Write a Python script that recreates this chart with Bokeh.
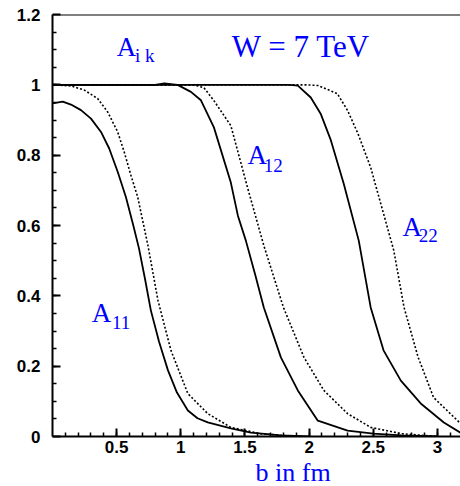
import numpy as np
from bokeh.plotting import figure
from bokeh.models import Range1d, FixedTicker, Label, Span, Title
from bokeh.embed import file_html
from bokeh.resources import INLINE

# ---- data ----
b_11_solid = [0.0, 0.08, 0.144, 0.222, 0.30, 0.378, 0.442, 0.508, 0.572, 0.63, 0.674, 0.72, 0.767, 0.83, 0.90, 0.97, 1.055, 1.13, 1.21, 1.39, 1.546, 1.78, 2.0]
a_11_solid = [0.947, 0.952, 0.944, 0.928, 0.904, 0.866, 0.819, 0.753, 0.681, 0.60, 0.535, 0.45, 0.358, 0.27, 0.188, 0.125, 0.074, 0.052, 0.04, 0.023, 0.011, 0.003, 0.0]

b_11_dot = [0.0, 0.144, 0.248, 0.352, 0.43, 0.508, 0.559, 0.611, 0.664, 0.744, 0.822, 0.923, 1.055, 1.21, 1.39, 1.62, 1.9]
a_11_dot = [1.0, 0.997, 0.985, 0.961, 0.923, 0.866, 0.809, 0.743, 0.681, 0.543, 0.387, 0.245, 0.122, 0.065, 0.026, 0.008, 0.0]

b_12_solid = [0.0, 0.80, 0.871, 0.975, 1.079, 1.157, 1.258, 1.39, 1.445, 1.507, 1.58, 1.647, 1.78, 1.912, 2.068, 2.30, 2.50, 2.72, 3.0]
a_12_solid = [1.0, 1.0, 1.004, 1.0, 0.98, 0.956, 0.879, 0.722, 0.628, 0.557, 0.46, 0.367, 0.225, 0.131, 0.045, 0.017, 0.008, 0.003, 0.0]

b_12_dot = [0.0, 1.10, 1.18, 1.258, 1.39, 1.52, 1.647, 1.80, 1.96, 2.115, 2.30, 2.48, 2.72, 3.0]
a_12_dot = [1.0, 1.0, 0.992, 0.955, 0.884, 0.708, 0.543, 0.367, 0.225, 0.131, 0.065, 0.026, 0.008, 0.0]

b_22_solid = [0.0, 1.85, 1.912, 2.013, 2.09, 2.17, 2.27, 2.387, 2.48, 2.58, 2.715, 2.87, 3.05, 3.18]
a_22_solid = [1.0, 1.0, 0.998, 0.964, 0.918, 0.842, 0.719, 0.557, 0.367, 0.245, 0.159, 0.094, 0.040, 0.011]

b_22_dot = [0.0, 1.98, 2.07, 2.22, 2.30, 2.38, 2.48, 2.66, 2.74, 2.85, 2.97, 3.18]
a_22_dot = [1.0, 1.0, 0.998, 0.975, 0.927, 0.862, 0.765, 0.529, 0.367, 0.225, 0.111, 0.037]

x_ticks = [0.5, 1.0, 1.5, 2.0, 2.5, 3.0]
x_tick_labels = ["0.5", "1", "1.5", "2", "2.5", "3"]
y_ticks = [0.0, 0.2, 0.4, 0.6, 0.8, 1.0, 1.2]
y_tick_labels = ["0", "0.2", "0.4", "0.6", "0.8", "1", "1.2"]
x_title = "b in  fm"

p = figure(width=460, height=486, output_backend="svg", toolbar_location=None,
           x_range=Range1d(0, 3.18), y_range=Range1d(0, 1.2),
           min_border_left=52, min_border_right=0, min_border_top=14, min_border_bottom=50)
p.outline_line_color = None
p.grid.visible = False
p.background_fill_color = "white"

# curves
p.line(b_11_solid, a_11_solid, line_color="black", line_width=1.8)
p.line(b_11_dot, a_11_dot, line_color="black", line_width=1.6, line_dash="2 2")
p.line(b_12_solid, a_12_solid, line_color="black", line_width=1.8)
p.line(b_12_dot, a_12_dot, line_color="black", line_width=1.6, line_dash="2 2")
p.line(b_22_solid, a_22_solid, line_color="black", line_width=1.8)
p.line(b_22_dot, a_22_dot, line_color="black", line_width=1.6, line_dash="2 2")

# axes
minor_x = [round(v, 2) for v in np.arange(0.1, 3.2, 0.1)]
minor_y = [round(v, 2) for v in np.arange(0.05, 1.2, 0.05)]
p.xaxis.ticker = FixedTicker(ticks=x_ticks, minor_ticks=minor_x)
p.yaxis.ticker = FixedTicker(ticks=y_ticks, minor_ticks=minor_y)
p.xaxis.major_label_overrides = {t: l for t, l in zip(x_ticks, x_tick_labels)}
p.yaxis.major_label_overrides = {t: l for t, l in zip(y_ticks, y_tick_labels)}
for ax in (p.xaxis, p.yaxis):
    ax.axis_line_width = 2
    ax.axis_line_color = "black"
    ax.major_tick_in = 8
    ax.major_tick_out = 0
    ax.minor_tick_in = 4
    ax.minor_tick_out = 0
    ax.major_tick_line_width = 2
    ax.minor_tick_line_width = 1.5
    ax.major_label_text_font = "Liberation Sans"
    ax.major_label_text_font_style = "bold"
    ax.major_label_text_font_size = "17px"
    ax.major_label_text_color = "black"
p.yaxis.major_label_standoff = 12
p.xaxis.major_label_standoff = 4

p.add_layout(Span(location=1.2, dimension="width", line_color="black", line_width=2))

blue = "#0000ff"
def lab(x, y, t, size):
    p.add_layout(Label(x=x, y=y, text=t, text_font="Liberation Serif",
                       text_font_size=size, text_color=blue,
                       text_baseline="alphabetic", text_align="left"))

lab(0.50, 1.109, "A", "27px")
lab(0.643, 1.083, "i k", "19px")
lab(1.398, 1.110, "W = 7 TeV", "31px")
lab(1.52, 0.801, "A", "27px")
lab(1.647, 0.771, "12", "19px")
lab(2.727, 0.597, "A", "27px")
lab(2.855, 0.571, "22", "19px")
lab(0.305, 0.350, "A", "27px")
lab(0.463, 0.324, "11", "19px")

p.add_layout(Title(text=x_title, align="left", offset=203, standoff=0,
                   text_font="Liberation Serif", text_font_size="26px",
                   text_font_style="normal", text_color=blue), "below")

open("out.html", "w").write(file_html(p, INLINE))
